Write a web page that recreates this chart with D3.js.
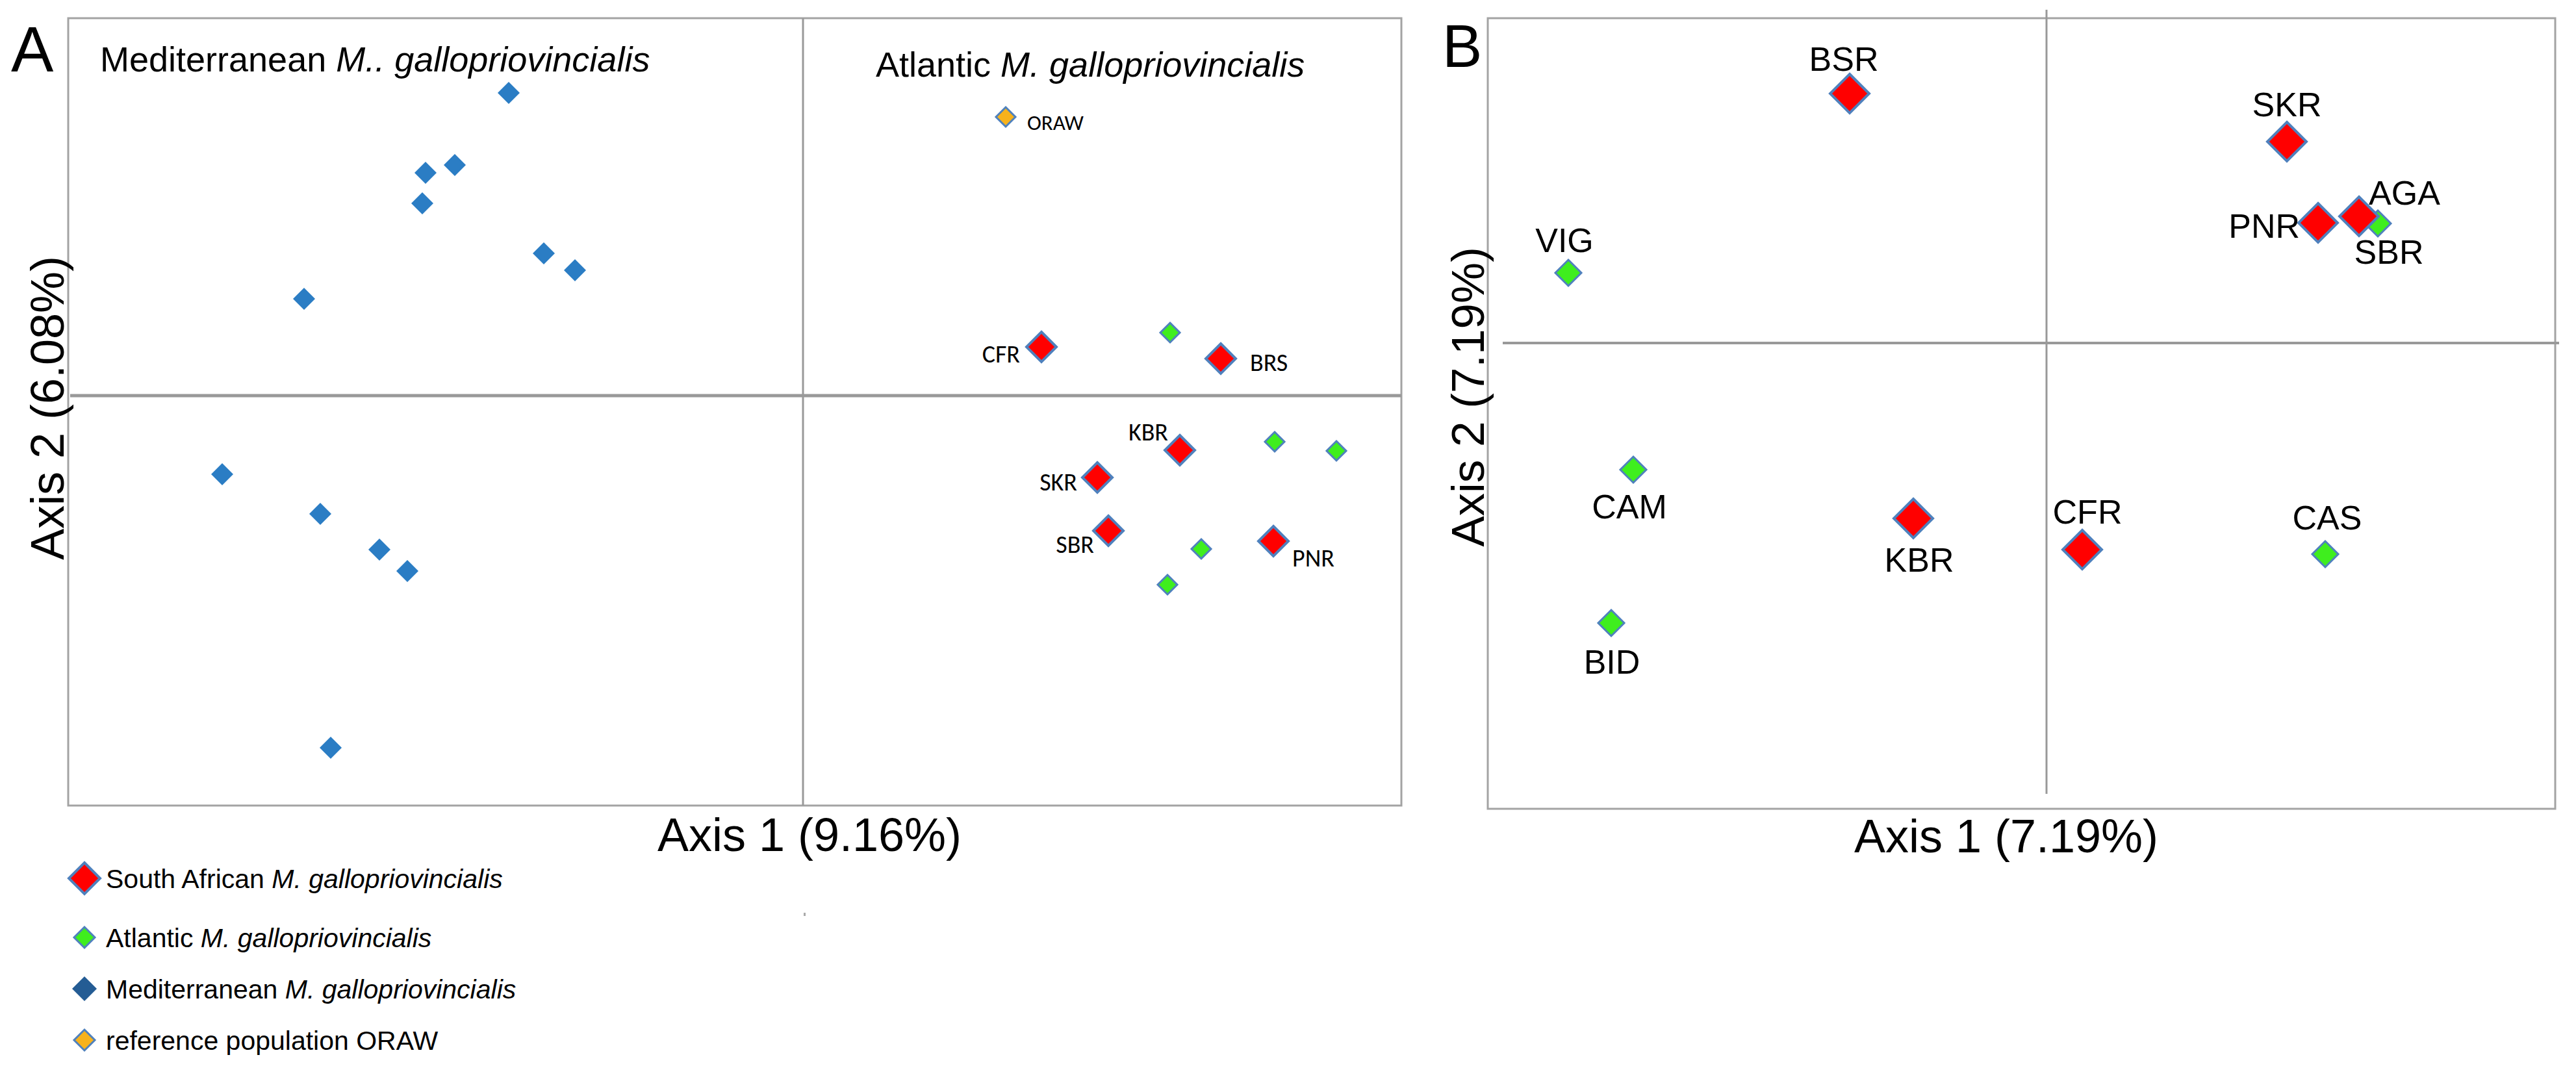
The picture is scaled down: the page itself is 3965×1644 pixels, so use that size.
<!DOCTYPE html>
<html>
<head>
<meta charset="utf-8">
<script src="https://cdn.jsdelivr.net/npm/d3@7/dist/d3.min.js"></script>
<style>
  html, body { margin: 0; padding: 0; background: #fff; }
  svg { display: block; }
</style>
</head>
<body>
<svg id="chart" width="3965" height="1644"></svg>
<script>
// ---------------- DATA ----------------
// Panel A: PCoA coordinates (Axis 1, Axis 2)
const groupsA = ["South African", "Atlantic", "Mediterranean", "Reference"];

const medNamesA = ["M1","M2","M3","M4","M5","M6","M7","M8","M9","M10","M11","M12"];
const medAxis1A = [-0.906, -1.072, -1.162, -1.172, -0.798, -0.702, -1.536, -1.788, -1.486, -1.304, -1.218, -1.454];
const medAxis2A = [ 0.932,  0.710,  0.686,  0.592,  0.438,  0.386,  0.298, -0.242, -0.364, -0.474, -0.540, -1.084];

const atlNamesA = ["A1","A2","A3","A4","A5"];
const atlAxis1A = [1.130, 1.452, 1.642, 1.226, 1.122];
const atlAxis2A = [0.194, -0.142, -0.170, -0.472, -0.582];

const refNamesA = ["ORAW"];
const refAxis1A = [0.624];
const refAxis2A = [0.858];

const saNamesA = ["CFR","BRS","KBR","SKR","SBR","PNR"];
const saAxis1A = [0.734, 1.286, 1.160, 0.906, 0.940, 1.448];
const saAxis2A = [0.150, 0.114, -0.168, -0.252, -0.416, -0.448];

// Panel B: PCoA coordinates
const atlNamesB = ["AGA","VIG","CAM","CAS","BID"];
const atlAxis1B = [1.020, -1.472, -1.272, 0.858, -1.340];
const atlAxis2B = [0.368, 0.216, -0.390, -0.650, -0.862];

const saNamesB = ["BSR","SKR","PNR","SBR","KBR","CFR"];
const saAxis1B = [-0.606, 0.740, 0.836, 0.962, -0.410, 0.110];
const saAxis2B = [0.768, 0.620, 0.370, 0.390, -0.540, -0.636];

const axisTitlesA = ["Axis 1 (9.16%)", "Axis 2 (6.08%)"];
const axisTitlesB = ["Axis 1 (7.19%)", "Axis 2 (7.19%)"];

const legendLabels = [
  ["South African ", "M. gallopriovincialis"],
  ["Atlantic ", "M. gallopriovincialis"],
  ["Mediterranean ", "M. gallopriovincialis"],
  ["reference population ORAW", ""]
];

// ---------------- STYLE / LAYOUT ----------------
const C = {
  red: "#ff0000", green: "#3fee1e", blue: "#2b7dc4", darkBlue: "#245c94",
  orange: "#f7b21c", outline: "#4f81bd", frame: "#a3a3a3", axis: "#999999"
};
const ARIAL = "'Liberation Sans', Arial, Helvetica, sans-serif";
const CALIBRI = "Carlito, Calibri, Lato, 'Open Sans', sans-serif";

// label placement: [dx, dy(baseline), anchor]
const labelPosA = {
  CFR: [-33, 24, "end"], BRS: [45, 19, "start"], KBR: [-18, -15, "end"],
  SKR: [-31, 20, "end"], SBR: [-22, 34, "end"], PNR: [29, 39, "start"],
  ORAW: [33, 20, "start"]
};
const labelPosB = {
  BSR: [-9, -35, "middle"], SKR: [0, -39, "middle"], PNR: [-28, 23, "end"],
  SBR: [46, 73, "middle"], AGA: [-14, -29, "start"], VIG: [-6, -32, "middle"],
  CAM: [-6, 75, "middle"], KBR: [9, 82, "middle"], CFR: [8, -40, "middle"],
  CAS: [3, -38, "middle"], BID: [1, 78, "middle"]
};

const svg = d3.select("#chart");

function diamond(r) { return `M0,${-r}L${r},0L0,${r}L${-r},0Z`; }

function zip(names, xs, ys) { return names.map((n, i) => ({ name: n, x: xs[i], y: ys[i] })); }

// ---------------- PANEL A ----------------
const A = { left: 105, top: 28, right: 2157, bottom: 1240 };
const xA = d3.scaleLinear().domain([-2.262, 1.842]).range([A.left, A.right]);
const yA = d3.scaleLinear().domain([-1.262, 1.162]).range([A.bottom, A.top]);

const gA = svg.append("g");
gA.append("rect").attr("x", A.left).attr("y", A.top).attr("width", A.right - A.left).attr("height", A.bottom - A.top)
  .attr("fill", "none").attr("stroke", C.frame).attr("stroke-width", 3);
gA.append("line").attr("x1", xA(0)).attr("x2", xA(0)).attr("y1", A.top).attr("y2", A.bottom)
  .attr("stroke", C.axis).attr("stroke-width", 3);
gA.append("line").attr("x1", A.left + 3).attr("x2", A.right).attr("y1", yA(0)).attr("y2", yA(0))
  .attr("stroke", C.axis).attr("stroke-width", 5);

function drawPoints(g, data, xs, ys, r, fill, stroke, sw) {
  g.selectAll(null).data(data).enter().append("path")
    .attr("d", diamond(r))
    .attr("transform", d => `translate(${xs(d.x)},${ys(d.y)})`)
    .attr("fill", fill)
    .attr("stroke", stroke || "none")
    .attr("stroke-width", sw || 0)
    .attr("stroke-linejoin", "miter");
}
function drawLabels(g, data, xs, ys, pos, font, size) {
  g.selectAll(null).data(data.filter(d => pos[d.name])).enter().append("text")
    .attr("x", d => xs(d.x) + pos[d.name][0])
    .attr("y", d => ys(d.y) + pos[d.name][1])
    .attr("text-anchor", d => pos[d.name][2])
    .attr("font-family", font)
    .attr("font-size", d => typeof size === "function" ? size(d) : size)
    .attr("fill", "#000")
    .text(d => d.name);
}

const medA = zip(medNamesA, medAxis1A, medAxis2A);
const atlA = zip(atlNamesA, atlAxis1A, atlAxis2A);
const refA = zip(refNamesA, refAxis1A, refAxis2A);
const saA = zip(saNamesA, saAxis1A, saAxis2A);

drawPoints(gA, medA, xA, yA, 17, C.blue);
drawPoints(gA, atlA, xA, yA, 15, C.green, C.outline, 3);
drawPoints(gA, refA, xA, yA, 15, C.orange, C.outline, 3);
drawPoints(gA, saA, xA, yA, 23, C.red, C.outline, 4);
drawLabels(gA, saA.concat(refA), xA, yA, labelPosA, CALIBRI, d => d.name === "ORAW" ? 33 : 38);

// Panel A group titles
const tMed = gA.append("text").attr("x", 154).attr("y", 110).attr("font-family", ARIAL).attr("font-size", 54);
tMed.append("tspan").text("Mediterranean ");
tMed.append("tspan").attr("font-style", "italic").text("M.. gallopriovincialis");
const tAtl = gA.append("text").attr("x", 1348).attr("y", 118).attr("font-family", ARIAL).attr("font-size", 54);
tAtl.append("tspan").text("Atlantic ");
tAtl.append("tspan").attr("font-style", "italic").text("M. gallopriovincialis");

// Axis titles A
gA.append("text").attr("x", 1246).attr("y", 1310).attr("text-anchor", "middle")
  .attr("font-family", ARIAL).attr("font-size", 72).text(axisTitlesA[0]);
gA.append("text").attr("transform", "translate(98,628) rotate(-90)").attr("text-anchor", "middle")
  .attr("font-family", ARIAL).attr("font-size", 72).text(axisTitlesA[1]);
gA.append("text").attr("x", 17).attr("y", 110).attr("font-family", ARIAL).attr("font-size", 98).text("A");

// tiny stray mark under panel A
gA.append("rect").attr("x", 1237).attr("y", 1405).attr("width", 3).attr("height", 5).attr("fill", "#aaa");

// ---------------- PANEL B ----------------
const B = { left: 2290, top: 28, right: 3933, bottom: 1245 };
const xB = d3.scaleLinear().domain([-1.72, 1.566]).range([B.left, B.right]);
const yB = d3.scaleLinear().domain([-1.434, 1.0]).range([B.bottom, B.top]);

const gB = svg.append("g");
gB.append("rect").attr("x", B.left).attr("y", B.top).attr("width", B.right - B.left).attr("height", B.bottom - B.top)
  .attr("fill", "none").attr("stroke", C.frame).attr("stroke-width", 3);
gB.append("line").attr("x1", xB(0)).attr("x2", xB(0)).attr("y1", 15).attr("y2", 1222)
  .attr("stroke", C.axis).attr("stroke-width", 3);
gB.append("line").attr("x1", 2313).attr("x2", 3939).attr("y1", yB(0)).attr("y2", yB(0))
  .attr("stroke", C.axis).attr("stroke-width", 4);

const atlB = zip(atlNamesB, atlAxis1B, atlAxis2B);
const saB = zip(saNamesB, saAxis1B, saAxis2B);
drawPoints(gB, atlB, xB, yB, 20, C.green, C.outline, 3);
drawPoints(gB, saB, xB, yB, 30, C.red, C.outline, 4);
drawLabels(gB, atlB.concat(saB), xB, yB, labelPosB, ARIAL, 52);

gB.append("text").attr("x", 3088).attr("y", 1312).attr("text-anchor", "middle")
  .attr("font-family", ARIAL).attr("font-size", 72).text(axisTitlesB[0]);
gB.append("text").attr("transform", "translate(2284,611) rotate(-90)").attr("text-anchor", "middle")
  .attr("font-family", ARIAL).attr("font-size", 71).text(axisTitlesB[1]);
gB.append("text").attr("x", 2220).attr("y", 103).attr("font-family", ARIAL).attr("font-size", 92).text("B");

// ---------------- LEGEND ----------------
const legendStyle = [
  { fill: C.red, stroke: C.outline, sw: 4, r: 24, cy: 1352 },
  { fill: C.green, stroke: C.outline, sw: 3, r: 16, cy: 1443 },
  { fill: C.darkBlue, stroke: "none", sw: 0, r: 19, cy: 1522 },
  { fill: C.orange, stroke: C.outline, sw: 3, r: 16, cy: 1601 }
];
const gL = svg.append("g");
legendLabels.forEach((lab, i) => {
  const s = legendStyle[i];
  gL.append("path").attr("d", diamond(s.r)).attr("transform", `translate(130,${s.cy})`)
    .attr("fill", s.fill).attr("stroke", s.stroke).attr("stroke-width", s.sw);
  const t = gL.append("text").attr("x", 163).attr("y", s.cy + 15)
    .attr("font-family", ARIAL).attr("font-size", 41);
  t.append("tspan").text(lab[0]);
  if (lab[1]) t.append("tspan").attr("font-style", "italic").text(lab[1]);
});
</script>
</body>
</html>
